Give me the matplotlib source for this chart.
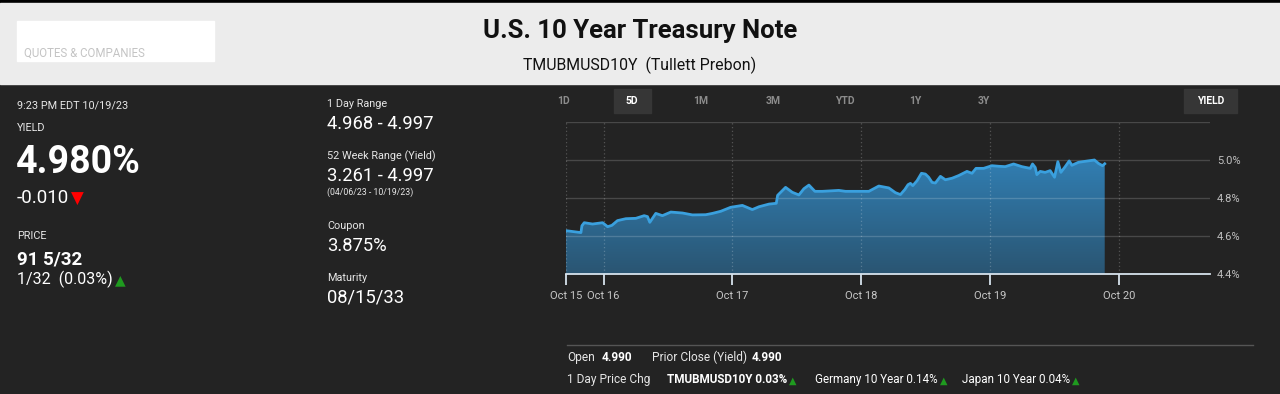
import matplotlib
matplotlib.use("Agg")
import matplotlib.pyplot as plt
import matplotlib.dates as mdates
import numpy as np
import pandas as pd

plt.rcParams['font.family'] = ['Roboto', 'DejaVu Sans']

# 5D intraday yield (EDT)
times = [
  "2023-10-15 17:00", "2023-10-15 19:47", "2023-10-15 19:58", "2023-10-15 20:24", "2023-10-15 21:57",
  "2023-10-15 23:49", "2023-10-16 00:45", "2023-10-16 01:33", "2023-10-16 02:36", "2023-10-16 04:09",
  "2023-10-16 06:01", "2023-10-16 07:34", "2023-10-16 08:11", "2023-10-16 08:37", "2023-10-16 09:44",
  "2023-10-16 10:58", "2023-10-16 12:32", "2023-10-16 14:42", "2023-10-16 16:33", "2023-10-16 19:02",
  "2023-10-16 20:17", "2023-10-16 21:50", "2023-10-16 23:41", "2023-10-17 01:52", "2023-10-17 03:43",
  "2023-10-17 04:58", "2023-10-17 06:50", "2023-10-17 08:11", "2023-10-17 08:26", "2023-10-17 09:55",
  "2023-10-17 11:10", "2023-10-17 12:24", "2023-10-17 13:20", "2023-10-17 14:16", "2023-10-17 15:23",
  "2023-10-17 16:45", "2023-10-17 19:50", "2023-10-17 21:05", "2023-10-17 22:57", "2023-10-18 01:26",
  "2023-10-18 03:17", "2023-10-18 05:09", "2023-10-18 06:23", "2023-10-18 07:19", "2023-10-18 08:07",
  "2023-10-18 08:44", "2023-10-18 09:11", "2023-10-18 09:37", "2023-10-18 10:25", "2023-10-18 11:14",
  "2023-10-18 11:58", "2023-10-18 12:35", "2023-10-18 13:13", "2023-10-18 13:50", "2023-10-18 14:46",
  "2023-10-18 15:41", "2023-10-18 16:56", "2023-10-18 18:10", "2023-10-18 19:43", "2023-10-18 20:39",
  "2023-10-18 21:24", "2023-10-18 22:49", "2023-10-19 00:22", "2023-10-19 01:37", "2023-10-19 02:51",
  "2023-10-19 04:24", "2023-10-19 05:57", "2023-10-19 07:30", "2023-10-19 07:56", "2023-10-19 08:26",
  "2023-10-19 08:44", "2023-10-19 09:22", "2023-10-19 10:17", "2023-10-19 11:13", "2023-10-19 12:02",
  "2023-10-19 12:39", "2023-10-19 13:13", "2023-10-19 14:01", "2023-10-19 14:46", "2023-10-19 15:16",
  "2023-10-19 16:30", "2023-10-19 17:44", "2023-10-19 19:28", "2023-10-19 20:13", "2023-10-19 20:58",
  "2023-10-19 21:23",
]
yields = [
  4.628, 4.618, 4.654, 4.670, 4.663, 4.670, 4.649, 4.656, 4.681, 4.691,
  4.693, 4.707, 4.702, 4.672, 4.719, 4.707, 4.726, 4.721, 4.711, 4.712,
  4.719, 4.730, 4.751, 4.761, 4.739, 4.754, 4.768, 4.772, 4.814, 4.856,
  4.830, 4.816, 4.849, 4.868, 4.835, 4.835, 4.840, 4.835, 4.835, 4.835,
  4.863, 4.853, 4.828, 4.818, 4.844, 4.870, 4.877, 4.865, 4.891, 4.930,
  4.926, 4.909, 4.882, 4.879, 4.914, 4.896, 4.904, 4.918, 4.940, 4.930,
  4.956, 4.956, 4.970, 4.967, 4.965, 4.979, 4.965, 4.956, 4.979, 4.961,
  4.923, 4.940, 4.935, 4.944, 4.909, 4.991, 4.935, 4.965, 4.995, 4.972,
  4.988, 4.993, 5.000, 4.982, 4.970, 4.980,
]

x_start = "2023-10-15 17:00"
x_end = "2023-10-20 17:00"
x_ticks = [x_start, "2023-10-16 00:00", "2023-10-17 00:00", "2023-10-18 00:00",
           "2023-10-19 00:00", "2023-10-20 00:00"]
x_labels = ["Oct 15", "Oct 16", "Oct 17", "Oct 18", "Oct 19", "Oct 20"]
y_ticks = [4.4, 4.6, 4.8, 5.0, 5.2]
y_labels = ["4.4%", "4.6%", "4.8%", "5.0%", ""]
ranges = ["1D", "5D", "1M", "3M", "YTD", "1Y", "3Y"]

BG = "#232323"
UP = "#1f9a1f"

fig = plt.figure(figsize=(12.8, 3.94), dpi=100)
fig.patch.set_facecolor(BG)

# pixel canvas for the page furniture
bg = fig.add_axes([0, 0, 1, 1])
bg.set_xlim(0, 1280)
bg.set_ylim(394, 0)
bg.axis("off")
bg.add_patch(plt.Rectangle((0, 0), 1280, 2.5, color="#000000"))
bg.add_patch(plt.Rectangle((0, 2.5), 1280, 81.5, color="#ececec"))
bg.add_patch(plt.Rectangle((17, 21), 197, 40, color="white"))
bg.text(24, 57, "QUOTES & COMPANIES", color="#c4c4c4", fontsize=8.3)

bg.text(640, 38, "U.S. 10 Year Treasury Note", ha="center", fontsize=18.5,
        fontweight="bold", color="#111111")
bg.text(640, 70, "TMUBMUSD10Y  (Tullett Prebon)", ha="center", fontsize=11.4,
        color="#111111")


def arrow_after(txt, sym, color, size):
  # triangle glyph right after a text, sitting on its baseline
  bg.annotate(sym, xy=(1, 0.18), xycoords=txt, xytext=(1.5, 0),
              textcoords="offset points", ha="left", va="baseline",
              color=color, fontsize=size, family=["DejaVu Sans"])


# left column
lab = "#e6e6e6"
bg.text(17, 108, "9:23 PM EDT 10/19/23", color=lab, fontsize=7.8)
bg.text(17, 131, "YIELD", color=lab, fontsize=7.8)
bg.text(16, 173, "4.980%", color="white", fontsize=27, fontweight="bold")
t1 = bg.text(17, 203, "-0.010", color="white", fontsize=13.5)
arrow_after(t1, "\u25bc", "#ff0000", 12)
bg.text(17, 239, "PRICE", color=lab, fontsize=7.8)
bg.text(17, 265, "91 5/32", color="white", fontsize=13.5, fontweight="bold")
t2 = bg.text(17, 284, "1/32  (0.03%)", color="white", fontsize=11.5)
arrow_after(t2, "\u25b2", UP, 10)

# middle column
mid = [("1 Day Range", "4.968 - 4.997", 107, 129),
       ("52 Week Range (Yield)", "3.261 - 4.997", 159, 181),
       ("Coupon", "3.875%", 229, 251),
       ("Maturity", "08/15/33", 281, 303)]
for label, val, yl, yv in mid:
  bg.text(327, yl, label, color=lab, fontsize=7.8)
  bg.text(327, yv, val, color="white", fontsize=13.2)
bg.text(327, 195, "(04/06/23 - 10/19/23)", color=lab, fontsize=6.3)

# range buttons
btn_x = [564, 632, 701, 773, 845, 915, 984]
bg.add_patch(plt.Rectangle((614, 89), 37, 24, color="#363636"))
bg.add_patch(plt.Rectangle((1184, 89), 53, 24, color="#363636"))
for name, bx in zip(ranges, btn_x):
  c = "white" if name == "5D" else "#8c8c8c"
  bg.text(bx, 101, name, ha="center", va="center", color=c, fontsize=7.5,
          fontweight="bold")
bg.text(1211, 101, "YIELD", ha="center", va="center", color="white", fontsize=7.5,
        fontweight="bold")

# bottom stats
bg.plot([567, 1253], [345, 345], color="#555555", lw=1)
bg.text(567, 361, "Open", color=lab, fontsize=8.6)
bg.text(602, 361, "4.990", color="white", fontsize=8.6, fontweight="bold")
bg.text(652, 361, "Prior Close (Yield)", color=lab, fontsize=8.6)
bg.text(752, 361, "4.990", color="white", fontsize=8.6, fontweight="bold")
bg.text(567, 383, "1 Day Price Chg", color=lab, fontsize=8.6)
chg = [("TMUBMUSD10Y 0.03%", 667), ("Germany 10 Year 0.14%", 815),
       ("Japan 10 Year 0.04%", 962)]
for s, tx in chg:
  tt = bg.text(tx, 383, s, color="white", fontsize=8.4,
               fontweight="bold" if s.startswith("TMUB") else "normal")
  arrow_after(tt, "\u25b2", UP, 7)

# chart
ax = fig.add_axes([566 / 1280, 1 - 274 / 394, 644 / 1280, 152 / 394])
ax.set_facecolor("none")
xd = mdates.date2num(pd.to_datetime(times))
y = np.array(yields)
x0 = mdates.date2num(pd.Timestamp(x_start))
x1 = mdates.date2num(pd.Timestamp(x_end))

fill = ax.fill_between(xd, y, 4.4, color="none", lw=0)
top_c = np.array([0x31, 0x7e, 0xb2]) / 255
bot_c = np.array([0x2a, 0x55, 0x72]) / 255
t = np.linspace(1, 0, 256)[:, None]
grad = (bot_c + (top_c - bot_c) * t)[:, None, :]
im = ax.imshow(grad, extent=[xd[0], xd[-1], 4.4, 5.0], aspect="auto",
               origin="upper", zorder=1)
im.set_clip_path(fill.get_paths()[0], transform=ax.transData)
ax.plot(xd, y, color="#3aa0de", lw=2, zorder=3, solid_joinstyle="round")
ax.set_xlim(x0, x1)
ax.set_ylim(4.4, 5.2)

ax.set_xticks(mdates.date2num(pd.to_datetime(x_ticks)))
ax.set_xticklabels(x_labels)
ax.set_yticks(y_ticks)
ax.set_yticklabels(y_labels)
ax.yaxis.tick_right()
for yy in y_ticks[1:]:
  ax.axhline(yy, color="white", alpha=0.17, lw=1, zorder=2)
for xx in ax.get_xticks():
  ax.axvline(xx, color="white", alpha=0.22, lw=0.9, ls=(0, (1, 2)), zorder=2)

for s in ["top", "left", "right"]:
  ax.spines[s].set_visible(False)
ax.spines["bottom"].set_color("#d6e2ec")
ax.spines["bottom"].set_linewidth(1.3)
ax.spines["bottom"].set_zorder(4)
ax.tick_params(axis="x", colors="#d6e2ec", length=8, width=1.3, labelsize=8,
               labelcolor="#c8c8c8", pad=4)
ax.tick_params(axis="y", length=0, labelsize=8, labelcolor="#c0c0c0", pad=5)

fig.savefig("out.png", dpi=100, facecolor=BG)
